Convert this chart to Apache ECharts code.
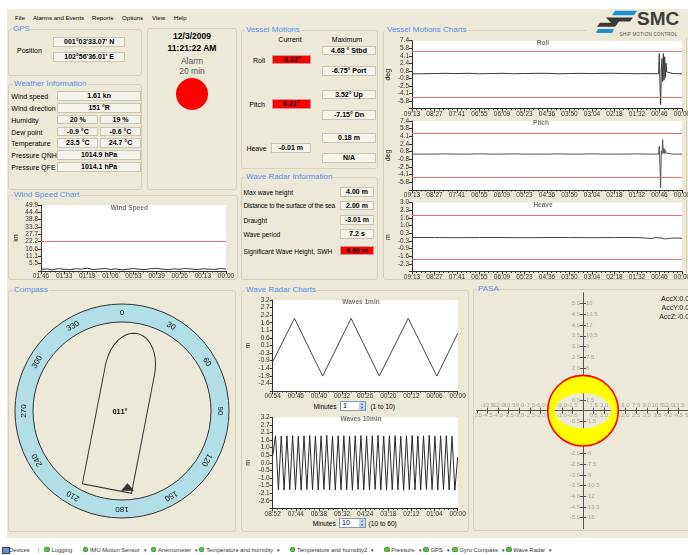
<!DOCTYPE html>
<html>
<head>
<meta charset="utf-8">
<title>Ship Motion Control</title>
<script src="https://cdn.jsdelivr.net/npm/echarts@6.0.0/dist/echarts.min.js"></script>
<style>
html,body{margin:0;padding:0}
body{width:688px;height:555px;position:relative;overflow:hidden;background:#ECE9D8;font-family:"Liberation Sans",Arial,sans-serif;font-size:7px;color:#000}
#ui div{position:absolute;white-space:nowrap}
.box{border:1px solid #D3D0C0;border-radius:3px;box-sizing:border-box}
.ttl{color:#5A8CEB;font-size:8px;background:#ECE9D8;padding:0 1px;line-height:10px;transform:translateY(-50%)}
.t{line-height:9px;transform:translateY(-50%)}
.tc{line-height:9px;transform:translate(-50%,-50%)}
.fld{box-sizing:border-box;border:1px solid #C9C6B6;background:#F3F2EB;font-weight:bold;text-align:center}
.red{background:#FF0000;border-color:#D89090}
.chart{position:absolute}
</style>
</head>
<body>
<div id="ui"></div>
<div id="vmc" class="chart" style="left:380px;top:34px;width:308px;height:248px"></div>
<div id="wind" class="chart" style="left:8px;top:198px;width:230px;height:84px"></div>
<div id="waves" class="chart" style="left:241px;top:296px;width:228px;height:222px"></div>
<div id="compass" class="chart" style="left:8px;top:292px;width:230px;height:240px"></div>
<div id="pasa" class="chart" style="left:475px;top:292px;width:213px;height:240px"></div>
<script>
// ================= DATA =================
const vmcTimeLabels = ['09:13','08:27','07:41','06:55','06:09','05:23','04:36','03:50','03:04','02:18','01:32','00:46','00:00'];
const rollTickLabels = ['7.4','5.8','4.1','2.4','0.8','-0.8','-2.5','-4.1','-5.8'];
const pitchTickLabels = ['7.4','5.8','4.1','2.4','0.8','-0.8','-2.5','-4.1','-5.8'];
const heaveTickLabels = ['3.0','2.3','1.6','1.0','0.3','-0.3','-0.9','-1.6','-2.3'];

const rollTime = [0,0.5,1,1.5,2,2.5,3,3.5,4,4.5,5,5.5,6,6.5,7,7.5,8,8.5,9,9.5,10,10.5,10.96,10.99,11.02,11.05,11.08,11.11,11.14,11.17,11.2,11.23,11.26,11.29,11.32,11.36,11.6,12];
const rollValues = [0.2,0.2,0.25,0.3,0.25,0.3,0.2,0.25,0.3,0.2,0.25,0.3,0.3,0.2,0.25,0.3,0.25,0.3,0.3,0.25,0.2,0.25,0.2,4.6,-2.0,-6.5,1.0,3.5,-1.5,4.6,-1.2,3.9,-0.6,2.5,0.6,0.2,0.25,0.2];
const rollLimits = [5.0, -5.0];

const pitchTime = [0,0.5,1,1.5,2,2.5,3,3.5,4,4.5,5,5.5,6,6.5,7,7.5,8,8.5,9,9.5,10,10.5,10.96,10.99,11.02,11.05,11.08,11.11,11.14,11.17,11.2,11.23,11.26,11.3,11.6,12];
const pitchValues = [0.3,0.3,0.3,0.35,0.3,0.3,0.35,0.3,0.3,0.35,0.3,0.3,0.3,0.35,0.3,0.3,0.35,0.3,0.3,0.3,0.35,0.3,0.3,2.0,-2.3,-6.9,1.0,0.3,3.4,0.5,1.5,0.4,1.2,0.5,0.3,0.3];
const pitchLimits = [4.7, -4.7];

const heaveTime = [0,1,2,3,4,5,6,7,8,9,10,10.67,10.8,10.89,11.1,11.26,11.33,11.48,11.7,12];
const heaveValues = [-0.04,-0.04,-0.05,-0.04,-0.04,-0.05,-0.04,-0.04,-0.05,-0.04,-0.04,-0.12,-0.05,-0.06,-0.08,-0.16,-0.05,-0.1,-0.08,-0.1];
const heaveLimits = [1.9, -1.9];

const windTimeLabels = ['01:46','01:33','01:19','01:06','00:53','00:39','00:26','00:13','00:00'];
const windTickLabels = ['49.9','44.4','38.8','33.3','27.7','22.2','16.6','11.1','5.5'];
const windValues = [1.2,1.6,0.9,1.8,1.3,1.0,1.7,1.4,2.1,1.1,1.5,1.9,1.2,1.6,0.8,1.4,1.8,1.3,1.1,1.7,2.0,1.4,1.0,1.6,1.3,1.9,1.5,1.1,1.7,1.4,1.2,1.8,1.6];
const windLimit = [22.2];

const wave1TimeLabels = ['00:54','00:46','00:40','00:32','00:26','00:20','00:12','00:06','00:00'];
const wave1TickLabels = ['3.2','2.7','2.2','1.6','1.1','0.6','0.1','-0.3','-0.9','-1.4','-1.9','-2.4'];
const wave1Time = [0,0.94,2.16,3.39,4.61,5.86,7.10,8];
const wave1Values = [-0.94,1.97,-1.9,1.97,-1.9,1.97,-1.9,0.96];

const wave10TimeLabels = ['08:52','07:44','06:38','05:32','04:24','03:18','02:12','01:04','00:00'];
const wave10TickLabels = ['3.2','2.7','2.1','1.6','1.0','0.5','0.0','-0.5','-1.0','-1.5','-2.1','-2.6'];
const wave10Values = [0.5,1.9,-1.9,1.88,-1.92,1.9,-1.89,1.91,-1.9,1.87,-1.93,1.9,-1.88,1.92,-1.9,1.89,-1.91,1.9,-1.87,1.93,-1.9,1.88,-1.92,1.9,-1.89,1.91,-1.9,1.87,-1.93,1.9,-1.88,1.92,-1.9,1.89,-1.91,1.9,-1.87,1.93,-1.9,1.88,-1.92,1.9,-1.89,1.91,-1.9,1.87,-1.93,1.9,-1.88,1.92,-1.9,1.89,-1.91,1.9,-1.87,1.93,-1.9,1.88,-1.92,1.9,-1.89,1.91,-1.9,1.87,-1.93,0.4];

const compassAngles = [0,30,60,90,120,150,180,210,240,270,300,330];
const compassLabels = ['0','30','60','90','120','150','180','210','240','270','300','330'];
const heading = 11;

const pasaTicks = [-5,-4.5,-4,-3.5,-3,-2.5,-2,-1.5,-1,-0.5,0,0.5,1,1.5,2,2.5,3,3.5,4,4.5,5];
const pasaLimit = 1.66;
const pasaInner = [1.32, 0.82];

const weatherRows = [
  ['Wind speed',91,['1.61 kn']],
  ['Wind direction',103,['151 °R']],
  ['Humidity',114.7,['20 %','19 %']],
  ['Dew point',126.7,['-0.9 °C','-0.6 °C']],
  ['Temperature',138.3,['23.5 °C','24.7 °C']],
  ['Pressure QNH',150,['1014.9 hPa']],
  ['Pressure QFE',162,['1014.1 hPa']]
];
const waveInfoRows = [
  ['Max wave height',192.3,187.3,'4.00 m',false],
  ['Distance to the surface of the sea',205,200.7,'2.00 m',false],
  ['Draught',220,215.3,'-3.01 m',false],
  ['Wave period',234.3,229.3,'7.2 s',false],
  ['Significant Wave Height, SWH',250.5,246,'4.90 m',true]
];
const statusItems = [
  [47,'Logging',false],[85.5,'IMU Motion Sensor',true],[153.5,'Anemometer',true],[201.7,'Temperature and humidity',true],
  [292.5,'Temperature and humidity2',true],[386.8,'Pressure',true],[426,'GPS',true],[454.8,'Gyro Compass',true],[508.8,'Wave Radar',true]
];

// ================= HTML UI =================
const ui = document.getElementById('ui');
const px = v => v + 'px';
function el(cls, css, text){ const d=document.createElement('div'); if(cls) d.className=cls; for(const k in css){ d.style[k]=(typeof css[k]==='number')?px(css[k]):css[k]; } if(text!=null) d.textContent=text; ui.appendChild(d); return d; }
function box(x1,y1,x2,y2,title,tx){ el('box',{left:x1,top:y1,width:x2-x1,height:y2-y1}); if(title) el('ttl',{left:tx,top:y1},title); }
function txt(x,y,s,css){ return el('t',Object.assign({left:x,top:y},css||{}),s); }
function ctxt(x,y,s,css){ return el('tc',Object.assign({left:x,top:y},css||{}),s); }
function fld(x1,y1,x2,y2,s,red){ const h=y2-y1; return el('fld'+(red?' red':''),{left:x1,top:y1,width:x2-x1,height:h,lineHeight:h-2},s); }

el('',{left:0,top:0,width:688,height:9,background:'#fff'});
el('',{left:0,top:0,width:7,height:538,background:'#fff'});
el('',{left:0,top:538,width:688,height:17,background:'#fff'});

[['File',15],['Alarms and Events',33],['Reports',92],['Options',122],['View',152],['Help',174]].forEach(m=>txt(m[1],16.5,m[0],{fontSize:'6.1px'}));

// GPS
box(8,29,142,76,'GPS',12);
txt(17,49.7,'Position');
fld(53.3,37.3,125,47.3,"001°03'33.07' N");
fld(53.3,52.3,125,62.3,"102°56'36.01' E");
// Weather
box(8,84,142,190,'Weather Information',13);
weatherRows.forEach(r=>{
  txt(11.3,r[1]+4.9,r[0]);
  if(r[2].length===1) fld(57.3,r[1],141,r[1]+9.6,r[2][0]);
  else { fld(57.3,r[1],98.3,r[1]+9.6,r[2][0]); fld(100,r[1],141,r[1]+9.6,r[2][1]); }
});
// Clock
box(146.7,28.3,237.3,190);
ctxt(192,36,'12/3/2009',{fontWeight:'bold',fontSize:'8.5px'});
ctxt(192,48,'11:21:22 AM',{fontWeight:'bold',fontSize:'8.5px'});
ctxt(192,60.7,'Alarm',{fontSize:'8.5px',color:'#555'});
ctxt(192,70.7,'20 min',{fontSize:'8.5px',color:'#555'});
el('',{left:176.2,top:77.5,width:32,height:32,borderRadius:'50%',background:'#FF0000'});
// Vessel motions
box(241,30,378,169,'Vessel Motions',245);
ctxt(290,38.7,'Current'); ctxt(347,39,'Maximum');
ctxt(259,59.7,'Roll'); ctxt(257,104,'Pitch'); ctxt(256.5,147.7,'Heave');
fld(271.7,55,311,64.3,'-0.02°',true);
fld(271.7,99.3,311,109.3,'0.21°',true);
fld(271,143.3,311,152.7,'-0.01 m');
[[45.7,55,'4.68 ° Stbd'],[66,75.7,'-6.75° Port'],[89.7,99.3,'3.52° Up'],[110,120,'-7.15° Dn'],[133.3,142.7,'0.18 m'],[153.3,163.3,'N/A']].forEach(f=>fld(322.3,f[0],375.7,f[1],f[2]));
// Wave radar info
box(241,177,378,280,'Wave Radar Information',245);
waveInfoRows.forEach(r=>{
  const t=txt(243.5,r[1],r[0],{fontSize:'6.6px'});
  if(r[0].indexOf('Distance')===0) t.style.letterSpacing='-0.2px';
  fld(340,r[2],374,r[2]+9.4,r[3],r[4]);
});
// Vessel motion charts panel
box(383,30,687,280,'Vessel Motions Charts',386);
// Logo
el('',{left:586,top:9,width:102,height:29,background:'#ECE9D8'});
const logo = el('',{left:590,top:8,width:98,height:30});
logo.innerHTML = '<svg width="98" height="30" viewBox="590 8 98 30" xmlns="http://www.w3.org/2000/svg">'+
 '<polygon points="615,10.8 637,10.8 634,15.2 612,15.2" fill="#1E8FD0"/>'+
 '<polygon points="606,17.5 633,17.5 630,21.5 619,21.5 615,26.8 597,26.8 600,22.8 611,22.8" fill="#3A3A3A"/>'+
 '<polygon points="598,29 614,29 612,33 596,33" fill="#1E8FD0"/></svg>';
txt(637,19,'SMC',{fontSize:'19px',fontWeight:'bold',color:'#3C3C3C',lineHeight:'20px'});
txt(619.5,33.6,'SHIP MOTION CONTROL',{fontSize:'4.6px',color:'#555',letterSpacing:'0.2px',lineHeight:'5px'});
// Wind
box(8,195,238,280,'Wind Speed Chart',13);
// Bottom panels
box(8,290,236,532,'Compass',13);
box(241,290,469,532,'Wave Radar Charts',245);
box(473,289,692,531,'PASA',477);
[['AccX:0.00',298.3],['AccY:0.00',307.3],['AccZ:-0.02',316]].forEach(a=>{
  txt(0,a[1],a[0],{color:'#222',textAlign:'right',width:693});
});
// minute spinners
function spinner(x1,y1,x2,y2,val){
  el('',{left:x1,top:y1,width:x2-x1,height:y2-y1,border:'1px solid #7F9DB9',background:'#fff',boxSizing:'border-box',lineHeight:(y2-y1-2)+'px',paddingLeft:'2px',fontSize:'7px'},val);
  el('',{left:x2-7,top:y1+1,width:6,height:(y2-y1-2)/2,background:'#C6D5F6',borderRadius:'1px'});
  el('',{left:x2-7,top:y1+1+(y2-y1-2)/2,width:6,height:(y2-y1-2)/2,background:'#B4C8F2',borderRadius:'1px'});
  el('',{left:x2-5.5,top:y1+2,width:0,height:0,borderLeft:'1.5px solid transparent',borderRight:'1.5px solid transparent',borderBottom:'2px solid #4D6185'});
  el('',{left:x2-5.5,top:y2-4,width:0,height:0,borderLeft:'1.5px solid transparent',borderRight:'1.5px solid transparent',borderTop:'2px solid #4D6185'});
}
ctxt(325,406,'Minutes',{fontSize:'6.6px'}); spinner(340,401,366,411,'1'); ctxt(382.7,406,'(1 to 10)',{fontSize:'6.6px'});
ctxt(324.3,522.7,'Minutes',{fontSize:'6.6px'}); spinner(339,517.7,366,527.7,'10'); ctxt(382.7,522.7,'(10 to 60)',{fontSize:'6.6px'});
// status bar
el('',{left:2,top:547,width:6,height:5,background:'#6A8FD0',border:'0.5px solid #345'});
txt(9,549.5,'Devices',{fontSize:'5.8px',color:'#333'});
txt(38,549.5,'|',{fontSize:'5.8px',color:'#777'});
statusItems.forEach(s=>{
  el('',{left:s[0]-2.8,top:546.7,width:5.6,height:5.6,borderRadius:'50%',background:'#5DBB4A',boxShadow:'0 0 0 0.5px #3C8A30 inset'});
  const t=txt(s[0]+4.5,549.5,s[1],{fontSize:'5.8px',color:'#333'});
  if(s[2]){ const w=t.getBoundingClientRect().width; txt(s[0]+4.5+w+4,549.5,'▾',{fontSize:'5px',color:'#333'}); }
});

// ================= CHARTS =================
const F = '"Liberation Sans", Arial, sans-serif';
const axisColor = '#333';
function timeAxis(gridIndex, labels){
  return {type:'value', gridIndex, min:0, max:labels.length-1, interval:1,
    axisLine:{show:true, onZero:false, lineStyle:{color:axisColor, width:1}},
    axisTick:{show:true, length:3, lineStyle:{color:axisColor}},
    minorTick:{show:true, splitNumber:5, length:1.5, lineStyle:{color:axisColor}},
    axisLabel:{fontSize:6.5, color:'#333', margin:2, fontFamily:F, formatter:v=>{const s=labels[Math.round(v)]; return s==null?'':s;}},
    splitLine:{show:false}, minorSplitLine:{show:false}};
}
function valueAxis(gridIndex, top, bottom, labels, name, nameGap){
  const n = labels.length, step = (top-bottom)/n;
  const pos = []; for(let k=0;k<=n;k++) pos.push(+(top-k*step).toFixed(6));
  pos[n] = bottom;
  return {type:'value', gridIndex, min:bottom, max:top, name, nameLocation:'middle', nameRotate:90, nameGap, nameMoveOverlap:false,
    nameTextStyle:{fontSize:7, color:'#222', fontFamily:F},
    axisLine:{show:true, onZero:false, lineStyle:{color:axisColor}},
    axisTick:{show:true, length:3, customValues:pos, lineStyle:{color:axisColor}},
    axisLabel:{customValues:pos.slice(0,n), fontSize:6.5, color:'#333', margin:3, fontFamily:F,
      formatter:v=>{const s=labels[Math.round((top-v)/step)]; return s==null?'':s;}},
    splitLine:{show:false}};
}
function lineSeries(idx, xs, ys, color, limits){
  const s = {type:'line', xAxisIndex:idx, yAxisIndex:idx, data:xs.map((x,i)=>[x, ys[i]]), symbol:'none', showSymbol:false,
    lineStyle:{color, width:1}, animation:false, z:3};
  if(limits) s.markLine = {silent:true, symbol:'none', animation:false, label:{show:false},
    lineStyle:{color:'#F26E6E', width:1, type:'solid'}, data:limits.map(v=>({yAxis:v}))};
  return s;
}
function gridBox(left, top, width, height){ return {left, top, width, height, show:true, backgroundColor:'#fff', borderWidth:0, borderColor:'transparent', outerBoundsMode:'none', containLabel:false}; }
function plotTitle(x, y, text){ return {type:'text', x, y, style:{text, align:'center', verticalAlign:'middle', font:'bold 6.5px '+F, fill:'#777'}}; }

// Vessel motion charts
const vmc = echarts.init(document.getElementById('vmc'));
vmc.setOption({
  animation:false, textStyle:{fontFamily:F},
  grid:[gridBox(32,6.7,270,68), gridBox(32,87,270,69), gridBox(32,168.7,270,68.8)],
  xAxis:[timeAxis(0,vmcTimeLabels), timeAxis(1,vmcTimeLabels), timeAxis(2,vmcTimeLabels)],
  yAxis:[valueAxis(0,7.4,-7.4,rollTickLabels,'deg',20.5), valueAxis(1,7.4,-7.4,pitchTickLabels,'deg',20.5), valueAxis(2,3.0,-3.0,heaveTickLabels,'m',20.5)],
  series:[lineSeries(0,rollTime,rollValues,'#3A3A3A',rollLimits), lineSeries(1,pitchTime,pitchValues,'#555',pitchLimits), lineSeries(2,heaveTime,heaveValues,'#444',heaveLimits)],
  graphic:{elements:[plotTitle(163,9,'Roll'), plotTitle(161,89.7,'Pitch'), plotTitle(163,171.3,'Heave')]}
});

// Wind
const wind = echarts.init(document.getElementById('wind'));
const windSpan = windTimeLabels.length-1;
wind.setOption({
  animation:false, textStyle:{fontFamily:F},
  grid:[gridBox(33,7,185,66)],
  xAxis:[timeAxis(0,windTimeLabels)],
  yAxis:[valueAxis(0,49.9,0,windTickLabels,'kn',21.5)],
  series:[lineSeries(0, windValues.map((v,i)=>i*windSpan/(windValues.length-1)), windValues, '#333', windLimit)],
  graphic:{elements:[plotTitle(121.3,10.3,'Wind Speed')]}
});

// Waves
const waves = echarts.init(document.getElementById('waves'));
const w10Span = wave10TimeLabels.length-1;
waves.setOption({
  animation:false, textStyle:{fontFamily:F},
  grid:[gridBox(31.7,4,185,91), gridBox(31.7,121.3,185,91)],
  xAxis:[timeAxis(0,wave1TimeLabels), timeAxis(1,wave10TimeLabels)],
  yAxis:[valueAxis(0,3.2,-2.9,wave1TickLabels,'m',21), valueAxis(1,3.2,-3.2,wave10TickLabels,'m',21)],
  series:[lineSeries(0,wave1Time,wave1Values,'#444',null),
          lineSeries(1,wave10Values.map((v,i)=>i*w10Span/(wave10Values.length-1)),wave10Values,'#2A2A2A',null)],
  graphic:{elements:[plotTitle(120,6.7,'Waves 1min'), plotTitle(120,123.3,'Waves 10min')]}
});

// Compass
const compass = echarts.init(document.getElementById('compass'));
const d2r = Math.PI/180, ccx = 114, ccy = 119, rOuter = 107, rInner = 89, rLabel = 98;
const shipPts = [[-25,79],[-25,-42]];
for(let k=1;k<20;k++){ const t=Math.PI*k/20; shipPts.push([-25*Math.cos(t), -42-37*Math.sin(t)]); }
shipPts.push([25,-42],[25,79]);
const compassEls = [
  {type:'circle', shape:{cx:ccx, cy:ccy, r:rOuter}, style:{fill:'#B1DEE7', stroke:'#333', lineWidth:1}},
  {type:'circle', shape:{cx:ccx, cy:ccy, r:rInner}, style:{fill:'#ECE9D8', stroke:'#333', lineWidth:1}}
];
compassAngles.forEach((a,i)=>compassEls.push({type:'text', x:ccx+rLabel*Math.sin(a*d2r), y:ccy-rLabel*Math.cos(a*d2r), rotation:-a*d2r,
  style:{text:compassLabels[i], align:'center', verticalAlign:'middle', font:'8px '+F, fill:'#111'}}));
compassEls.push({type:'group', x:ccx, y:ccy, rotation:-heading*d2r, children:[
  {type:'polygon', shape:{points:shipPts}, style:{fill:'none', stroke:'#333', lineWidth:1}}
]});
compassEls.push({type:'polygon', shape:{points:[[113.5,198.5],[119.5,191.5],[125.5,198.5]]}, style:{fill:'#333', stroke:'#222', lineWidth:0.5}});
compassEls.push({type:'text', x:ccx-2, y:ccy+0.7, style:{text:String(heading).padStart(3,'0')+'°', align:'center', verticalAlign:'middle', font:'bold 7.5px '+F, fill:'#111'}});
compass.setOption({animation:false, graphic:{elements:compassEls}});

// PASA
const pasa = echarts.init(document.getElementById('pasa'));
const pGrid = {left:1.75, top:1, width:212.5, height:235.4};
const offX = -(pGrid.height/2), offY = -(pGrid.width/2);
const pasaLine = {show:true, onZero:false, lineStyle:{color:'#555', width:1}};
const pasaTick = {show:true, length:3, customValues:pasaTicks, lineStyle:{color:'#555'}};
const pasaLab = {fontSize:6, color:'#A8A8A0', fontFamily:F, customValues:pasaTicks};
const fmtZero = f => v => Math.abs(v)<1e-6 ? '' : f(v);
pasa.setOption({
  animation:false, textStyle:{fontFamily:F},
  grid:[Object.assign({show:false, outerBoundsMode:'none', containLabel:false}, pGrid)],
  xAxis:[
    {type:'value', min:-5, max:5, position:'bottom', offset:offX, axisLine:pasaLine, axisTick:pasaTick, splitLine:{show:false},
     axisLabel:Object.assign({}, pasaLab, {margin:2, formatter:fmtZero(v=>v.toFixed(1))})},
    {type:'value', min:-5, max:5, position:'top', offset:offX, axisLine:pasaLine, axisTick:pasaTick, splitLine:{show:false},
     axisLabel:Object.assign({}, pasaLab, {margin:2, formatter:fmtZero(v=>(v*3).toFixed(1))})}
  ],
  yAxis:[
    {type:'value', min:-5.5, max:5.5, position:'left', offset:offY, axisLine:pasaLine, axisTick:pasaTick, splitLine:{show:false},
     axisLabel:Object.assign({}, pasaLab, {margin:3, formatter:fmtZero(v=>v.toFixed(1))})},
    {type:'value', min:-5.5, max:5.5, position:'right', offset:offY, axisLine:pasaLine, axisTick:pasaTick, splitLine:{show:false},
     axisLabel:Object.assign({}, pasaLab, {margin:3, formatter:fmtZero(v=>String(+(v*3).toFixed(1)))})}
  ],
  series:[{type:'custom', xAxisIndex:0, yAxisIndex:0, data:[[0,0]], z:10, silent:true, clip:false,
    renderItem:(params, api)=>{
      const c = api.coord([0,0]);
      const R = api.size([pasaLimit, pasaLimit]);
      const rx = api.size([pasaInner[0], 0])[0], ry = api.size([0, pasaInner[1]])[1];
      const pts = [], N = 120;
      for(let k=0;k<=N;k++){ const t=2*Math.PI*k/N; pts.push([c[0]+R[0]*Math.cos(t), c[1]+R[1]*Math.sin(t)]); }
      for(let k=0;k<=N;k++){ const t=-2*Math.PI*k/N; pts.push([c[0]+rx*Math.cos(t), c[1]+ry*Math.sin(t)]); }
      return {type:'group', children:[
        {type:'polygon', shape:{points:pts}, style:{fill:'#FFFF00', stroke:'none', lineWidth:0}},
        {type:'circle', shape:{cx:c[0], cy:c[1], r:R[0]}, style:{fill:'none', stroke:'#FF0000', lineWidth:1.6}}
      ]};
    }}]
});
</script>
</body>
</html>
